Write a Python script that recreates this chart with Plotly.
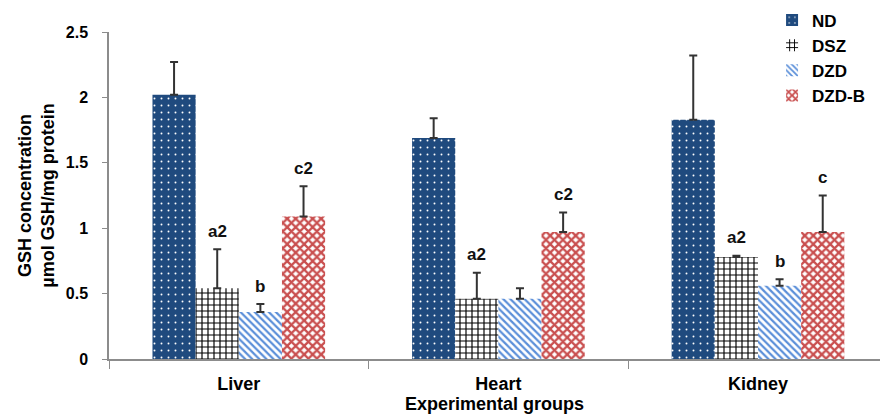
import plotly.graph_objects as go

# Tissue groups and treatment series
organs = ["Liver", "Heart", "Kidney"]
series = ["ND", "DSZ", "DZD", "DZD-B"]

# Mean GSH concentration (µmol GSH/mg protein)
nd_mean = [2.02, 1.69, 1.83]
dsz_mean = [0.54, 0.46, 0.78]
dzd_mean = [0.36, 0.46, 0.56]
dzdb_mean = [1.09, 0.97, 0.97]

# Upper error (SD) for each mean
nd_err = [0.25, 0.15, 0.49]
dsz_err = [0.30, 0.20, 0.01]
dzd_err = [0.06, 0.08, 0.05]
dzdb_err = [0.23, 0.15, 0.28]

# Significance letters above the bars
nd_sig = ["", "", ""]
dsz_sig = ["a2", "a2", "a2"]
dzd_sig = ["b", "", "b"]
dzdb_sig = ["c2", "c2", "c"]

means = [nd_mean, dsz_mean, dzd_mean, dzdb_mean]
errs = [nd_err, dsz_err, dzd_err, dzdb_err]
sigs = [nd_sig, dsz_sig, dzd_sig, dzdb_sig]

FONT = "Liberation Sans, Arial, sans-serif"
patterns = [
    dict(shape=".", fgcolor="#ffffff", bgcolor="#1F4A7E", size=7, solidity=0.06, fillmode="replace"),
    dict(shape="+", fgcolor="#000000", bgcolor="#ffffff", size=6, solidity=0.35, fillmode="replace"),
    dict(shape="\\", fgcolor="#5B8FD9", bgcolor="#ffffff", size=5, solidity=0.45, fillmode="replace"),
    dict(shape="x", fgcolor="#C94F4F", bgcolor="#ffffff", size=6, solidity=0.62, fillmode="replace"),
]
base_colors = ["#1F4A7E", "#000000", "#5B8FD9", "#C94F4F"]

bargap = 0.335
fig = go.Figure()
for i, name in enumerate(series):
    fig.add_trace(go.Bar(
        x=organs, y=means[i], name=name,
        marker=dict(color=base_colors[i], pattern=patterns[i], line=dict(width=0)),
        error_y=dict(type="data", symmetric=False, array=errs[i],
                     arrayminus=[0] * len(organs), color="#333333",
                     thickness=2, width=4),
    ))

# Letters sit just above each error bar
bw = (1 - bargap) / len(series)
for i in range(len(series)):
    off = (i - (len(series) - 1) / 2) * bw
    for j in range(len(organs)):
        if sigs[i][j]:
            fig.add_annotation(
                x=j + off, y=means[i][j] + errs[i][j], xref="x", yref="y",
                text="<b>%s</b>" % sigs[i][j], showarrow=False,
                yanchor="middle", yshift=18,
                font=dict(family=FONT, size=17, color="#111111"),
            )

fig.update_layout(
    width=880, height=414,
    margin=dict(l=109, r=0, t=32, b=55),
    paper_bgcolor="white", plot_bgcolor="white",
    barmode="group", bargap=bargap, bargroupgap=0,
    font=dict(family=FONT, size=14, color="#000000"),
    legend=dict(x=0.86, y=1.09, xanchor="left", yanchor="top",
                font=dict(family=FONT, size=17, color="#000000", weight="bold"),
                itemwidth=30, tracegroupgap=0, bgcolor="rgba(0,0,0,0)"),
    showlegend=True,
)
fig.update_xaxes(
    type="category", range=[-0.5, 2.47],
    showline=True, linecolor="#8c8c8c", linewidth=1.5,
    ticks="outside", tickson="boundaries", ticklen=8, tickcolor="#8c8c8c",
    tickfont=dict(family=FONT, size=18, weight="bold"),
    ticklabelstandoff=8,
    title=dict(text="<b>Experimental groups</b>", standoff=0,
               font=dict(family=FONT, size=18)),
    showgrid=False,
)
fig.update_yaxes(
    range=[0, 2.5], tickvals=[0, 0.5, 1, 1.5, 2, 2.5],
    ticktext=["0", "0.5", "1", "1.5", "2", "2.5"],
    showline=True, linecolor="#8c8c8c", linewidth=1.5,
    ticks="outside", ticklen=5, tickcolor="#8c8c8c",
    tickfont=dict(family=FONT, size=16, weight="bold"),
    ticklabelstandoff=11,
    title=dict(text="<b>GSH concentration<br>µmol GSH/mg protein</b>", standoff=6,
               font=dict(family=FONT, size=18)),
    showgrid=False, zeroline=False,
)

fig.write_html("out.html")
